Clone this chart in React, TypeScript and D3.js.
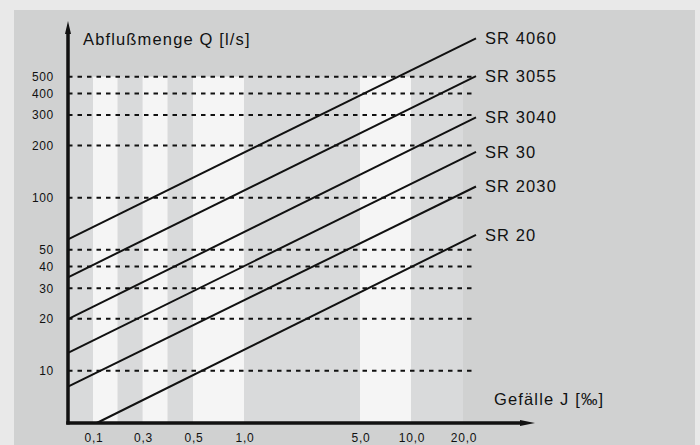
import * as d3 from 'd3';

// Gefälle J [‰] – the x axis is schematic, ticks are not on a true log scale
const X_TICKS = [0.1, 0.3, 0.5, 1.0, 5.0, 10.0, 20.0];
const X_TICK_LABELS = ['0,1', '0,3', '0,5', '1,0', '5,0', '10,0', '20,0'];
// band edges, alternating grey / light starting with grey
const BAND_EDGES = [0, 0.1, 0.2, 0.3, 0.4, 0.5, 1.0, 5.0, 10.0, 20.0];

// Abflußmenge Q [l/s]
const Y_TICKS = [10, 20, 30, 40, 50, 100, 200, 300, 400, 500];

// pipe series: start / end of each straight line (J, Q)
const SERIES = ['SR 4060', 'SR 3055', 'SR 3040', 'SR 30', 'SR 2030', 'SR 20'];
const J_START = [0, 0, 0, 0, 0, 0.115];
const Q_START = [57.5, 34.7, 19.9, 12.7, 8.1, 5];
const J_END = [22.5, 22.5, 22.5, 22.5, 22.5, 22.5];
const Q_END = [832, 504, 291, 184, 116, 61];

const W = 700;
const H = 445;
const FONT = '"Liberation Sans", Arial, Helvetica, sans-serif';
const INK = '#111';

const x = d3
  .scaleLinear()
  .domain([0, 0.1, 0.3, 0.5, 1, 5, 10, 20])
  .range([68, 93, 142.5, 193, 244, 360, 411, 463]);

const y = d3.scaleLog().domain([5, 1000]).range([423, 24.5]);

const GRID_END = 22.5;

export default function App() {
  const x0 = x(0);
  const y0 = y(5);
  const bands = d3.pairs(BAND_EDGES);
  const line = d3
    .line<[number, number]>()
    .x(d => x(d[0]))
    .y(d => y(d[1]));

  return (
    <div style={{ position: 'absolute', left: 0, top: 0 }}>
      <svg width={W} height={H} style={{ display: 'block', fontFamily: FONT }}>
        <rect width={W} height={H} fill="#e9e9e9" />
        <rect x={14} y={10} width={681} height={H - 10} fill="#d0d1d1" />

        {/* vertical bands */}
        {bands.map(([a, b], i) => (
          <rect
            key={i}
            x={x(a)}
            y={y(500)}
            width={x(b) - x(a)}
            height={y0 - y(500)}
            fill={i % 2 === 0 ? '#d9dadb' : '#f5f5f5'}
          />
        ))}

        {/* dashed grid */}
        {Y_TICKS.map(t => (
          <line
            key={t}
            x1={x0}
            x2={x(GRID_END)}
            y1={y(t)}
            y2={y(t)}
            stroke={INK}
            strokeWidth={2}
            strokeDasharray="4.5 5"
          />
        ))}

        {/* series lines */}
        {SERIES.map((name, i) => {
          const p0: [number, number] = [J_START[i], Q_START[i]];
          const p1: [number, number] = [J_END[i], Q_END[i]];
          return (
            <g key={name}>
              <path d={line([p0, p1]) ?? ''} stroke={INK} strokeWidth={2} fill="none" />
              <text
                x={x(p1[0]) + 9}
                y={y(p1[1])}
                dy="0.36em"
                fontSize={16.5}
                letterSpacing={1.1}
                fill={INK}
              >
                {name}
              </text>
            </g>
          );
        })}

        {/* axes */}
        <line x1={x0} x2={x0} y1={y0 + 1.5} y2={32} stroke={INK} strokeWidth={3.5} />
        <path d={`M${x0},21 L${x0 - 3},34 L${x0 + 3},34 Z`} fill={INK} />
        <line x1={x0 - 1.75} x2={522} y1={y0} y2={y0} stroke={INK} strokeWidth={3.5} />
        <path d={`M535,${y0} L520,${y0 - 3} L520,${y0 + 3} Z`} fill={INK} />

        {Y_TICKS.map(t => (
          <text
            key={t}
            x={54}
            y={y(t)}
            dy="0.36em"
            textAnchor="end"
            fontSize={12}
            letterSpacing={0.7}
            fill={INK}
          >
            {t}
          </text>
        ))}
        {X_TICKS.map((t, i) => (
          <text
            key={t}
            x={x(t) + 1}
            y={441.5}
            textAnchor="middle"
            fontSize={12}
            letterSpacing={0.8}
            fill={INK}
          >
            {X_TICK_LABELS[i]}
          </text>
        ))}

        <text x={83} y={45} fontSize={16.5} letterSpacing={1.15} fill={INK}>
          Abflußmenge Q [l/s]
        </text>
        <text x={494} y={405} fontSize={16.5} letterSpacing={1.15} fill={INK}>
          Gefälle J [‰]
        </text>
      </svg>
    </div>
  );
}
